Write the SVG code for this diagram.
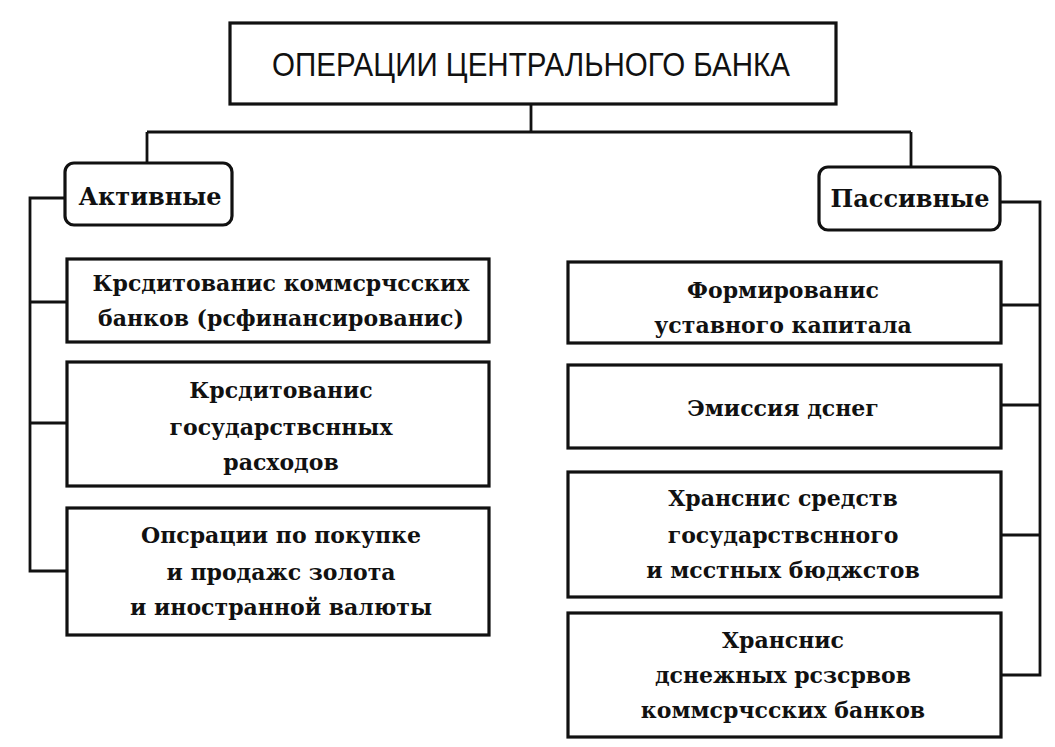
<svg xmlns="http://www.w3.org/2000/svg" width="1055" height="747" viewBox="0 0 1055 747">
<style>
.box{fill:#fff;stroke:#111;stroke-width:3.2}
.conn{fill:none;stroke:#111;stroke-width:2.8}
.t{font-family:"DejaVu Serif","Liberation Serif",serif;font-weight:bold;font-size:22px;fill:#111;text-anchor:middle}
.g{font-size:24px}
.h{font-family:"Liberation Sans","DejaVu Sans",sans-serif;font-size:34px;fill:#111;text-anchor:middle}
</style>
<rect width="1055" height="747" fill="#fff"/>
<g id="connectors">
<path class="conn" d="M531 103 V132 M147 132 H911 M147 132 V163 M911 132 V167"/>
<path class="conn" d="M65 198 H30 V571 H67 M30 302 H67 M30 423 H67"/>
<path class="conn" d="M1000 202 H1040 V675 H1001 M1040 305 H1001 M1040 405 H1001 M1040 535 H1001"/>
</g>
<g id="title">
<rect class="box" x="230" y="23" width="606" height="81"/>
<text class="h" x="531" y="76" textLength="518" lengthAdjust="spacingAndGlyphs">ОПЕРАЦИИ ЦЕНТРАЛЬНОГО БАНКА</text>
</g>
<g id="active">
<rect class="box" x="65" y="163" width="167" height="62" rx="9"/>
<text class="t g" x="150" y="205">Активные</text>
</g>
<g id="passive">
<rect class="box" x="819" y="167" width="181" height="63" rx="9"/>
<text class="t g" x="910" y="207">Пассивные</text>
</g>
<g id="a1">
<rect class="box" x="67" y="259" width="422" height="83"/>
<text class="t" x="281" y="291">Крсдитованис коммсрчсских</text>
<text class="t" x="281" y="326">банков (рсфинансированис)</text>
</g>
<g id="a2">
<rect class="box" x="67" y="362" width="422" height="124"/>
<text class="t" x="281" y="398">Крсдитованис</text>
<text class="t" x="281" y="435">государствснных</text>
<text class="t" x="281" y="470">расходов</text>
</g>
<g id="a3">
<rect class="box" x="67" y="508" width="422" height="127"/>
<text class="t" x="281" y="543">Опсрации по покупке</text>
<text class="t" x="281" y="580">и продажс золота</text>
<text class="t" x="281" y="615">и иностранной валюты</text>
</g>
<g id="p1">
<rect class="box" x="568" y="262" width="433" height="81"/>
<text class="t" x="783" y="298">Формированис</text>
<text class="t" x="783" y="333">уставного капитала</text>
</g>
<g id="p2">
<rect class="box" x="568" y="365" width="433" height="83"/>
<text class="t" x="783" y="416">Эмиссия дснег</text>
</g>
<g id="p3">
<rect class="box" x="568" y="472" width="433" height="125"/>
<text class="t" x="783" y="506">Хранснис средств</text>
<text class="t" x="783" y="543">государствснного</text>
<text class="t" x="783" y="578">и мсстных бюджстов</text>
</g>
<g id="p4">
<rect class="box" x="568" y="613" width="433" height="124"/>
<text class="t" x="783" y="648">Хранснис</text>
<text class="t" x="783" y="683">дснежных рсзсрвов</text>
<text class="t" x="783" y="718">коммсрчсских банков</text>
</g>
</svg>
